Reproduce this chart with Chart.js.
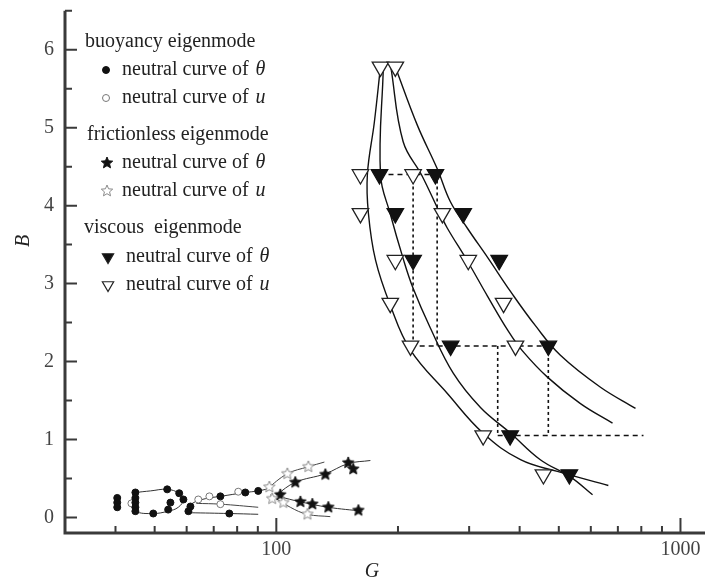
<!DOCTYPE html>
<html>
<head>
<meta charset="utf-8">
<script src="https://cdn.jsdelivr.net/npm/chart.js@4.4.1/dist/chart.umd.min.js"></script>
<style>
  html, body { margin: 0; padding: 0; background: #fff; overflow: hidden; }
  #wrap { width: 705px; height: 582px; }
  #grafico { display: block; }
</style>
</head>
<body>
<div id="wrap"><canvas id="grafico"></canvas></div>
<script>
// eixos
const xTicks = [40, 50, 60, 70, 80, 90, 100, 200, 300, 400, 500, 600, 700, 800, 900, 1000];
const xLabels = [100, 1000];
const yTicks = [0, 1, 2, 3, 4, 5, 6];
const yMinor = [0.5, 1.5, 2.5, 3.5, 4.5, 5.5, 6.5];

// buoyancy eigenmode [G, B]
const buoyTheta = [[40.4, 0.25], [40.4, 0.19], [40.4, 0.13], [44.8, 0.32], [44.8, 0.25], [44.8, 0.19], [44.8, 0.13], [44.8, 0.08],
  [49.6, 0.05], [53.7, 0.36], [57.5, 0.31], [58.9, 0.23], [54.7, 0.19], [54.0, 0.10], [60.6, 0.08], [61.3, 0.14],
  [72.7, 0.27], [83.8, 0.32], [90.2, 0.34], [76.5, 0.05]];
const buoyU = [[43.8, 0.18], [64.1, 0.23], [68.3, 0.27], [72.7, 0.17], [80.5, 0.33]];
const buoyLoop = [[44.8, 0.32], [48.8, 0.34], [53.7, 0.36], [57.5, 0.31], [58.9, 0.23], [57.2, 0.13], [54, 0.08], [49.6, 0.05], [44.8, 0.08], [43.8, 0.19], [44.8, 0.32]];
const buoyUpper = [[60.2, 0.08], [62, 0.18], [66.7, 0.24], [72.7, 0.27], [83.8, 0.32], [90.2, 0.34], [97.7, 0.38]];
const buoyMid = [[63.4, 0.18], [72.7, 0.17], [90.2, 0.13]];
const buoyLower = [[61.3, 0.06], [76.5, 0.05], [90.2, 0.04]];

// frictionless eigenmode
const fricTheta = [[102.3, 0.29], [111.4, 0.45], [132.2, 0.55], [150.6, 0.70], [155, 0.62], [114.7, 0.20], [122.8, 0.17], [134.5, 0.13], [159.6, 0.09]];
const fricU = [[96.1, 0.39], [106.5, 0.56], [120, 0.65], [97.7, 0.24], [104.1, 0.19], [119.4, 0.04]];
const fricUpperU = [[94.5, 0.36], [106.5, 0.56], [120, 0.65], [131.5, 0.71]];
const fricUpperT = [[100, 0.29], [111.4, 0.45], [132.2, 0.56], [150.6, 0.69], [170.9, 0.73]];
const fricLowerT = [[101.1, 0.27], [114.7, 0.2], [134.5, 0.13], [163.3, 0.08]];
const fricLowerU = [[96.6, 0.29], [108.3, 0.13], [119.4, 0.04], [136, 0.01]];

// viscous eigenmode
const viscTheta = [[180, 4.4], [247.5, 4.4], [197, 3.9], [290, 3.9], [218, 3.3], [356, 3.3], [270, 2.2], [471, 2.2], [379, 1.05], [531, 0.55]];
const viscU = [[181, 5.78], [197, 5.78], [161.5, 4.4], [218, 4.4], [161.5, 3.9], [257.6, 3.9], [197, 3.3], [298.5, 3.3],
  [191.4, 2.75], [365, 2.75], [214.8, 2.2], [390.6, 2.2], [325, 1.05], [458, 0.55]];
const curvaA = [[181, 5.78], [174.8, 5.07], [168, 4.4], [169, 3.9], [176, 3.3], [191.5, 2.72], [214.6, 2.15], [265, 1.59], [325, 1.08], [402, 0.74], [496, 0.59], [663, 0.41]];
const curvaB = [[184, 5.78], [181, 4.4], [191.5, 3.89], [206, 3.32], [218, 2.94], [240.5, 2.43], [274, 1.85], [320, 1.41], [380, 1.08], [450, 0.74], [534, 0.52], [606, 0.29]];
const curvaC = [[192, 5.78], [206, 4.82], [229, 4.39], [254.6, 3.89], [265, 3.71], [297, 3.29], [333, 2.84], [375, 2.39], [406, 2.14], [468.6, 1.8], [565.6, 1.46], [679, 1.21]];
const curvaD = [[197, 5.78], [223.4, 5.03], [250.3, 4.47], [269.6, 4.05], [297, 3.71], [334.8, 3.32], [379.6, 2.9], [437.6, 2.46], [504.6, 2.08], [634, 1.67], [774, 1.4]];

// linhas tracejadas
const tracoH = [[[180, 4.4], [248, 4.4]], [[215, 2.2], [471, 2.2]], [[353, 1.05], [810, 1.05]]];
const tracoV = [[[218, 4.4], [218, 2.2]], [[250, 4.4], [250, 2.2]], [[353, 2.2], [353, 1.05]], [[471, 2.2], [471, 1.05]]];

// legenda
const legendGroups = ['buoyancy eigenmode', 'frictionless eigenmode', 'viscous  eigenmode'];
const legendVars = ['θ', 'u'];

const fonte = "'Liberation Serif', 'DejaVu Serif', serif";

function pares(arr) {
  return arr.map(([x, y]) => ({ x, y }));
}

function criaEstrela(r, fill, stroke) {
  const c = document.createElement('canvas');
  const s = Math.ceil(r * 2 + 4);
  c.width = s; c.height = s;
  const g = c.getContext('2d');
  g.beginPath();
  for (let i = 0; i < 10; i++) {
    const rr = i % 2 ? r * 0.45 : r;
    const a = -Math.PI / 2 + i * Math.PI / 5;
    const px = s / 2 + rr * Math.cos(a), py = s / 2 + rr * Math.sin(a);
    i ? g.lineTo(px, py) : g.moveTo(px, py);
  }
  g.closePath();
  g.fillStyle = fill; g.fill();
  g.strokeStyle = stroke; g.lineWidth = 1; g.stroke();
  return c;
}

const estrelaCheia = criaEstrela(6, '#111', '#111');
const estrelaVazia = criaEstrela(6, '#fff', '#8a8a8a');

function linha(dados, extra) {
  return Object.assign({
    data: pares(dados), showLine: true, pointRadius: 0, borderColor: '#111',
    borderWidth: 1.4, tension: 0.4, order: 2
  }, extra);
}

function pontos(dados, extra) {
  return Object.assign({ data: pares(dados), showLine: false, order: 0 }, extra);
}

const datasets = [
  linha(curvaA), linha(curvaB), linha(curvaC), linha(curvaD),
  linha(buoyLoop, { borderWidth: 1, borderColor: '#333' }),
  linha(buoyUpper, { borderWidth: 1, borderColor: '#333' }),
  linha(buoyMid, { borderWidth: 1, borderColor: '#444' }),
  linha(buoyLower, { borderWidth: 1, borderColor: '#333' }),
  linha(fricUpperU, { borderWidth: 1, borderColor: '#444' }),
  linha(fricUpperT, { borderWidth: 1, borderColor: '#333' }),
  linha(fricLowerT, { borderWidth: 1, borderColor: '#333' }),
  linha(fricLowerU, { borderWidth: 1, borderColor: '#444' }),
  ...tracoH.map(t => linha(t, { tension: 0, borderWidth: 1.4, borderDash: [5, 4] })),
  ...tracoV.map(t => linha(t, { tension: 0, borderWidth: 1.6, borderDash: [3, 3] })),
  pontos(buoyTheta, { pointStyle: 'circle', pointRadius: 3.5, pointBackgroundColor: '#111', pointBorderColor: '#111' }),
  pontos(buoyU, { pointStyle: 'circle', pointRadius: 3.5, pointBackgroundColor: '#fff', pointBorderColor: '#777', pointBorderWidth: 1 }),
  pontos(fricU, { pointStyle: estrelaVazia }),
  pontos(fricTheta, { pointStyle: estrelaCheia }),
  pontos(viscU, { pointStyle: 'triangle', rotation: 180, pointRadius: 9.5, pointBackgroundColor: '#fff', pointBorderColor: '#222', pointBorderWidth: 1.3 }),
  pontos(viscTheta, { pointStyle: 'triangle', rotation: 180, pointRadius: 9.5, pointBackgroundColor: '#111', pointBorderColor: '#111', pointBorderWidth: 1.3 })
];

function marcador(ctx, tipo, cx, cy) {
  ctx.save();
  if (tipo === 0 || tipo === 1) {
    ctx.beginPath();
    ctx.arc(cx, cy, 3.5, 0, Math.PI * 2);
    ctx.fillStyle = tipo === 0 ? '#111' : '#fff';
    ctx.fill();
    ctx.lineWidth = 1;
    ctx.strokeStyle = tipo === 0 ? '#111' : '#777';
    ctx.stroke();
  } else if (tipo === 2 || tipo === 3) {
    const img = tipo === 2 ? estrelaCheia : estrelaVazia;
    ctx.drawImage(img, cx - img.width / 2, cy - img.height / 2);
  } else {
    const r = 6.5;
    ctx.beginPath();
    ctx.moveTo(cx, cy + r);
    ctx.lineTo(cx - r * 0.866, cy - r / 2);
    ctx.lineTo(cx + r * 0.866, cy - r / 2);
    ctx.closePath();
    ctx.fillStyle = tipo === 4 ? '#111' : '#fff';
    ctx.fill();
    ctx.lineWidth = 1.2;
    ctx.strokeStyle = '#222';
    ctx.stroke();
  }
  ctx.restore();
}

const extras = {
  id: 'extras',
  afterLayout(chart) {
    // o eixo x vai até a borda direita
    const x = chart.scales.x;
    x.right = chart.width;
    x.width = x.right - x.left;
    chart.chartArea.right = chart.width;
    chart.chartArea.width = chart.chartArea.right - chart.chartArea.left;
    x.configure();
  },
  afterDraw(chart) {
    const { ctx, chartArea: a, scales: { x, y } } = chart;
    ctx.save();

    // linhas dos eixos
    ctx.strokeStyle = '#3a3a3a';
    ctx.lineWidth = 3;
    ctx.beginPath();
    ctx.moveTo(a.left, a.top);
    ctx.lineTo(a.left, a.bottom + 1.5);
    ctx.moveTo(a.left - 1.5, a.bottom);
    ctx.lineTo(chart.width, a.bottom);
    ctx.stroke();

    // marcas para dentro
    ctx.lineWidth = 2;
    ctx.beginPath();
    yTicks.forEach(v => { const p = y.getPixelForValue(v); ctx.moveTo(a.left, p); ctx.lineTo(a.left + 12, p); });
    yMinor.forEach(v => { const p = y.getPixelForValue(v); ctx.moveTo(a.left, p); ctx.lineTo(a.left + 7, p); });
    xTicks.forEach(v => {
      const p = x.getPixelForValue(v);
      const len = xLabels.includes(v) ? 15 : 7;
      ctx.moveTo(p, a.bottom);
      ctx.lineTo(p, a.bottom - len);
    });
    ctx.stroke();

    // títulos dos eixos
    ctx.fillStyle = '#222';
    ctx.font = 'italic 20px ' + fonte;
    ctx.textAlign = 'center';
    ctx.textBaseline = 'middle';
    ctx.fillText('G', 372, 572);
    ctx.save();
    ctx.translate(24, 241);
    ctx.rotate(-Math.PI / 2);
    ctx.fillText('B', 0, 0);
    ctx.restore();

    // legenda
    const linhasY = [42, 70, 98, 135, 163, 191, 228, 257, 285];
    const tituloX = [85, 87, 84];
    const marcaX = [106, 106, 107, 107, 108, 108];
    const textoX = [122, 122, 122, 122, 126, 126];
    ctx.textAlign = 'left';
    legendGroups.forEach((g, i) => {
      ctx.font = '20px ' + fonte;
      ctx.fillStyle = '#222';
      ctx.fillText(g, tituloX[i], linhasY[i * 3]);
      legendVars.forEach((v, j) => {
        const k = i * 2 + j;
        const yy = linhasY[i * 3 + 1 + j];
        marcador(ctx, k, marcaX[k], yy);
        ctx.font = '20px ' + fonte;
        ctx.fillStyle = '#222';
        const txt = 'neutral curve of ';
        ctx.fillText(txt, textoX[k], yy);
        const w = ctx.measureText(txt).width;
        ctx.font = 'italic 20px ' + fonte;
        ctx.fillText(v, textoX[k] + w + 2, yy);
      });
    });

    ctx.restore();
  }
};

const grafico = new Chart(document.getElementById('grafico'), {
  type: 'scatter',
  data: { datasets },
  options: {
    responsive: true,
    maintainAspectRatio: false,
    animation: false,
    events: [],
    layout: { padding: { top: 8, right: 0, left: 0, bottom: 0 } },
    plugins: { legend: { display: false }, tooltip: { enabled: false } },
    scales: {
      x: {
        type: 'logarithmic',
        min: 30,
        max: 1150,
        afterFit: s => { s.height = 49; s.paddingLeft = 0; s.paddingRight = 0; },
        afterBuildTicks: s => { s.ticks = xTicks.map(v => ({ value: v })); },
        ticks: {
          autoSkip: false,
          maxRotation: 0,
          padding: 5,
          color: '#444',
          font: { family: fonte, size: 20 },
          callback: v => xLabels.includes(v) ? String(v) : ''
        },
        grid: { display: false, drawTicks: false },
        border: { display: false }
      },
      y: {
        min: -0.2,
        max: 6.5,
        afterFit: s => { s.width = 65; s.paddingTop = 0; s.paddingBottom = 0; },
        afterBuildTicks: s => { s.ticks = yTicks.map(v => ({ value: v })); },
        ticks: {
          padding: 11,
          color: '#444',
          font: { family: fonte, size: 20 },
          callback: v => String(v)
        },
        grid: { display: false, drawTicks: false },
        border: { display: false }
      }
    }
  },
  plugins: [extras]
});
</script>
</body>
</html>
